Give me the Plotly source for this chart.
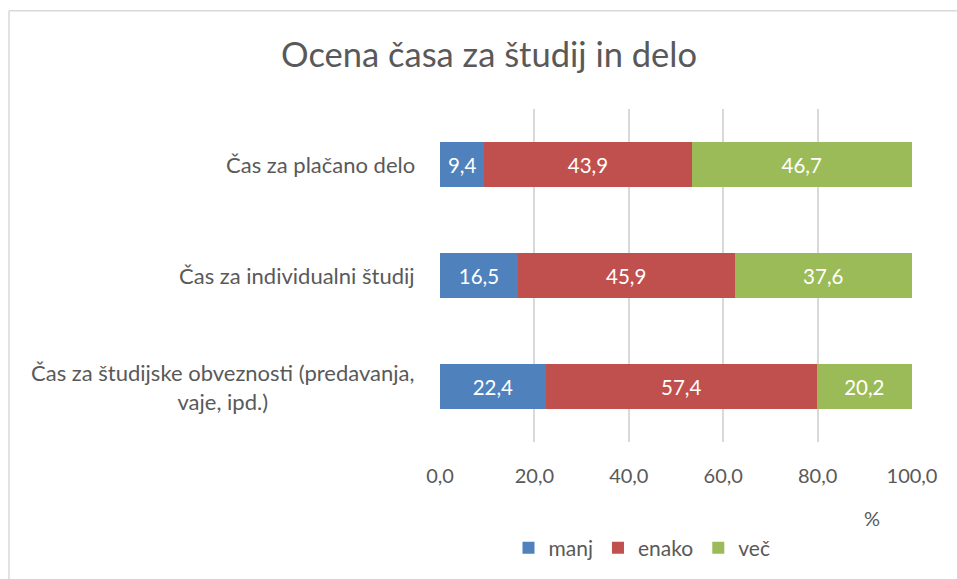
import plotly.graph_objects as go

categories = ["Čas za plačano delo", "Čas za individualni študij",
              "Čas za študijske obveznosti (predavanja,<br>vaje, ipd.)"]
series_names = ["manj", "enako", "več"]
manj = [9.4, 16.5, 22.4]
enako = [43.9, 45.9, 57.4]
vec = [46.7, 37.6, 20.2]
x_ticks = [0, 20, 40, 60, 80, 100]
colors = ["#4F81BD", "#C0504D", "#9BBB59"]

W, H = 957, 579
L, R, T, B = 440, 912, 109, 443
FONT = "Lato"
GREY = "#595959"

def px_x(p):
    return (p - L) / (R - L)

def px_y(p):
    return (B - p) / (B - T)

fig = go.Figure()
for name, vals, col in zip(series_names, [manj, enako, vec], colors):
    fig.add_trace(go.Bar(
        name=name, y=categories, x=vals, orientation="h",
        marker=dict(color=col, line=dict(width=0)),
        text=vals, texttemplate="%{x:.1f}", textposition="inside",
        insidetextanchor="middle",
        textfont=dict(family=FONT, size=20.5, color="white"),
        hoverinfo="skip",
    ))

annotations = []
for c in categories:
    annotations.append(dict(
        text=c, x=px_x(417), xref="paper", y=c, yref="y",
        xanchor="right", yanchor="middle", align="center", showarrow=False,
        font=dict(family=FONT, size=22, color=GREY),
    ))
annotations.append(dict(
    text="%", x=px_x(872), xref="paper", y=px_y(519), yref="paper",
    xanchor="center", yanchor="middle", showarrow=False,
    font=dict(family=FONT, size=20, color=GREY),
))

fig.update_layout(
    width=W, height=H,
    margin=dict(l=L, r=W - R, t=T, b=H - B, pad=0),
    paper_bgcolor="white", plot_bgcolor="white",
    barmode="stack", bargap=0.6,
    separators=",.",
    title=dict(text="Ocena časa za študij in delo", x=px_x(489), xref="paper",
               xanchor="center", y=1 - 55 / H, yanchor="middle",
               font=dict(family=FONT, size=34.5, color=GREY)),
    xaxis=dict(range=[0, 100], tickvals=x_ticks, tickformat=".1f",
               showgrid=True, gridcolor="#d9d9d9", gridwidth=1.5,
               zeroline=False, showline=False, ticks="",
               ticklabelstandoff=20,
               tickfont=dict(family=FONT, size=20, color=GREY), fixedrange=True),
    yaxis=dict(autorange="reversed", showticklabels=False, showgrid=False,
               zeroline=False, showline=False, ticks="", fixedrange=True),
    legend=dict(orientation="h", x=px_x(642), xanchor="center",
                y=px_y(548), yanchor="middle", traceorder="normal",
                font=dict(family=FONT, size=21, color=GREY),
                itemwidth=30, bgcolor="rgba(0,0,0,0)"),
    annotations=annotations,
    shapes=[
        dict(type="line", xref="paper", yref="paper",
             x0=px_x(9), x1=px_x(960), y0=px_y(10.5), y1=px_y(10.5),
             line=dict(color="#d9d9d9", width=1.5)),
        dict(type="line", xref="paper", yref="paper",
             x0=px_x(9), x1=px_x(9), y0=px_y(10.5), y1=px_y(585),
             line=dict(color="#d9d9d9", width=1.5)),
    ],
    showlegend=True,
)

fig.write_html("out.html", config={"displayModeBar": False},
               post_script="document.body.style.margin='0';")
